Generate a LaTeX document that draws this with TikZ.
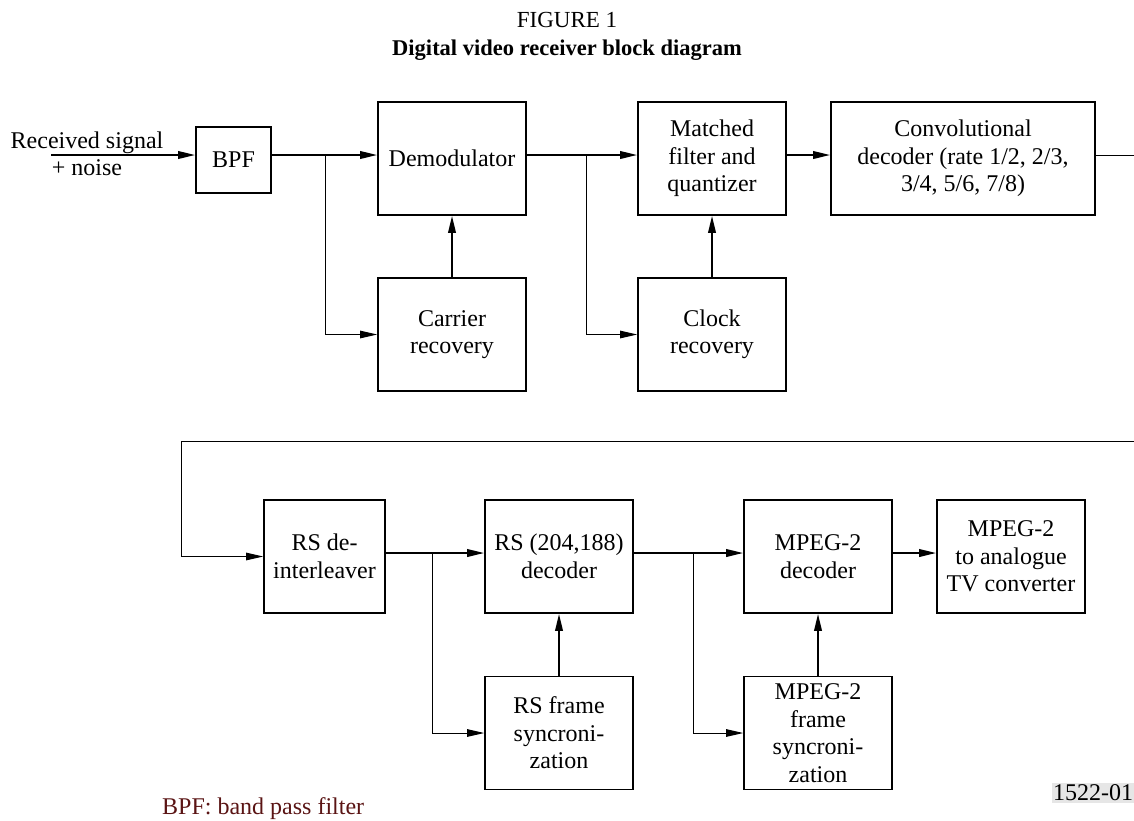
\documentclass[tikz,border=0pt]{standalone}
\usepackage{fontspec}
\setmainfont{Liberation Serif}
\usetikzlibrary{arrows.meta,calc}
\definecolor{notecol}{RGB}{90,20,20}
\definecolor{tagbg}{RGB}{230,230,230}
\begin{document}
\begin{tikzpicture}[x=1pt,y=-1pt,
 box/.style={draw, line width=1.6pt, minimum width=148pt, minimum height=113pt, align=center, inner sep=2pt, font=\fontsize{24}{27.5}\selectfont},
 sig/.style={line width=2pt, -{Triangle[length=17pt,width=7.5pt]}},
 tap/.style={line width=1pt, -{Triangle[length=17pt,width=7.5pt]}},
 tapline/.style={line width=1pt},
 lbl/.style={font=\fontsize{24}{27.5}\selectfont, align=center, inner sep=0pt}]
\useasboundingbox (0,0) rectangle (1134,820);

% titles
\node[lbl, font=\fontsize{23}{26}\selectfont] (title) at (567,20) {FIGURE 1};
\node[lbl, font=\fontsize{22.5}{26}\selectfont\bfseries] (sub) at (567,50) {Digital video receiver block diagram};

% input label
\node[lbl, anchor=base] (inlbl1) at (87,148) {Received signal};
\node[lbl, anchor=base] (inlbl2) at (87,175) {+ noise};

% top row
\node[box, minimum width=75pt, minimum height=66pt] (bpf) at (233.5,160) {BPF};
\node[box] (demod) at (452,158.5) {Demodulator};
\node[box] (carrier) at (452,334.5) {Carrier\\recovery};
\node[box] (matched) at (712,158.5) {Matched\\filter and\\quantizer};
\node[box] (clock) at (712,334.5) {Clock\\recovery};
\node[box, minimum width=264pt] (conv) at (963,158.5) {Convolutional\\decoder (rate 1/2, 2/3,\\3/4, 5/6, 7/8)};

% bottom row
\node[box, minimum width=121pt] (rsdeint) at (324.5,556.5) {RS de-\\interleaver};
\node[box] (rsdec) at (559,556.5) {RS (204,188)\\decoder};
\node[box] (rsframe) at (559,733) {RS frame\\syncroni-\\zation};
\node[box] (mpegdec) at (818,556.5) {MPEG-2\\decoder};
\node[box] (mpegframe) at (818,733) {MPEG-2\\frame\\syncroni-\\zation};
\node[box] (tv) at (1011,556.5) {MPEG-2\\to analogue\\TV converter};

% coordinates
\coordinate (r1) at (0,155);
\coordinate (r2) at (0,553);
\coordinate (src) at (51,155);
\coordinate (b1) at (325,155);
\coordinate (b2) at (586,155);
\coordinate (edge1) at (1134,155);
\coordinate (fbR) at (1134,441);
\coordinate (fbL) at (181,441);
\coordinate (b3) at (432,553);
\coordinate (b4) at (693,553);

% top connectors
\draw[sig] (src) -- (bpf.west |- r1);
\draw[sig] (bpf.east |- r1) -- (demod.west |- r1);
\draw[tap] (b1) |- (carrier.west);
\draw[sig] (demod.east |- r1) -- (matched.west |- r1);
\draw[tap] (b2) |- (clock.west);
\draw[sig] (carrier.north) -- (demod.south);
\draw[sig] (clock.north) -- (matched.south);
\draw[sig] (matched.east |- r1) -- (conv.west |- r1);
\draw[tapline] (conv.east |- r1) -- (edge1);

% feedback
\draw[tap] (fbR) -- (fbL) |- (rsdeint.west);

% bottom connectors
\draw[sig] (rsdeint.east |- r2) -- (rsdec.west |- r2);
\draw[tap] (b3) |- (rsframe.west);
\draw[sig] (rsdec.east |- r2) -- (mpegdec.west |- r2);
\draw[tap] (b4) |- (mpegframe.west);
\draw[sig] (rsframe.north) -- (rsdec.south);
\draw[sig] (mpegframe.north) -- (mpegdec.south);
\draw[sig] (mpegdec.east |- r2) -- (tv.west |- r2);

% notes
\node[lbl, text=notecol, anchor=west] (note) at (162,809) {BPF: band pass filter};
\node[lbl, fill=tagbg, inner sep=1.5pt] (tag) at (1093,793) {1522-01};
\end{tikzpicture}
\end{document}
